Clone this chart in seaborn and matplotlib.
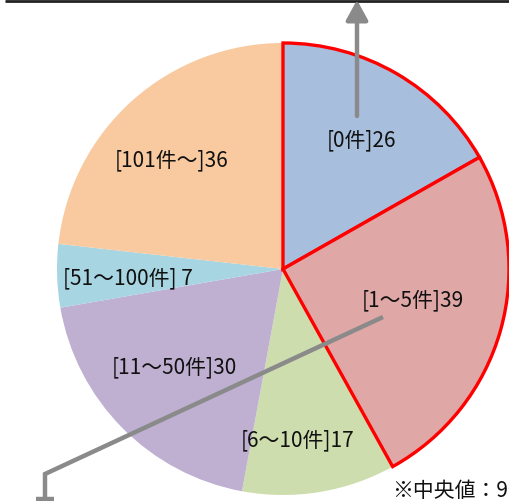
import matplotlib
matplotlib.use("Agg")
import matplotlib.pyplot as plt
import seaborn as sns

# Number of cases per category, clockwise from the top
categories = ["[0件]", "[1～5件]", "[6～10件]", "[11～50件]", "[51～100件]", "[101件～]"]
counts = [26, 39, 17, 30, 7, 36]
colors = ["#A7BFDD", "#DFA7A6", "#CEDDAD", "#BFB0D2", "#A7D5E2", "#F9CAA0"]
highlighted = [True, True, False, False, False, False]
note = "※中央値：9件"

sns.set_theme(style="white")
plt.rcParams["font.family"] = ["Noto Sans CJK JP", "DejaVu Sans"]

W, H = 509, 502
fig = plt.figure(figsize=(W / 100, H / 100), dpi=100)
ax = fig.add_axes([0, 0, 1, 1])

cx, cy, r = 283, H - 270, 226
wedges, _ = ax.pie(counts, colors=colors, startangle=90, counterclock=False,
                   center=(cx, cy), radius=r, frame=True,
                   wedgeprops=dict(linewidth=0))
for w, hl in zip(wedges, highlighted):
    if hl:
        w.set_edgecolor("#FF0000")
        w.set_linewidth(2.4)
        w.set_zorder(3)

ax.set_xlim(0, W)
ax.set_ylim(0, H)
ax.set_aspect("auto")
ax.axis("off")

# Label positions (pixel coordinates from the top-left)
label_pos = [(362, 140), (413, 300), (298, 440), (174, 367), (128, 278), (172, 160)]
for cat, val, (x, y) in zip(categories, counts, label_pos):
    ax.text(x, H - y, f"{cat}{val:>2}", ha="center", va="center",
            fontsize=15, color="#111111", zorder=6)

gray = "#8A8A8A"
# rule along the top edge
ax.plot([5, W], [H - 1.5, H - 1.5], color="#222222", lw=2.0, zorder=5,
        solid_capstyle="butt")
# upward arrow from the [0件] slice
ax.annotate("", xy=(357, H - 1), xytext=(357, H - 117),
            arrowprops=dict(arrowstyle="-|>,head_length=1.0,head_width=0.55",
                            color=gray, lw=3.2, shrinkA=0, shrinkB=0),
            zorder=5)
# leader line from the [1～5件] slice down to the lower left
ax.plot([383, 45, 45], [H - 318, H - 475, H - 500], color=gray, lw=3.2,
        zorder=5, solid_joinstyle="miter", solid_capstyle="butt")
ax.plot([36, 54], [H - 500, H - 500], color=gray, lw=3.2, zorder=5,
        solid_capstyle="butt")

ax.text(392, H - 491, note, ha="left", va="center", fontsize=15,
        color="#111111", zorder=6)

fig.savefig("out.png", dpi=100)
